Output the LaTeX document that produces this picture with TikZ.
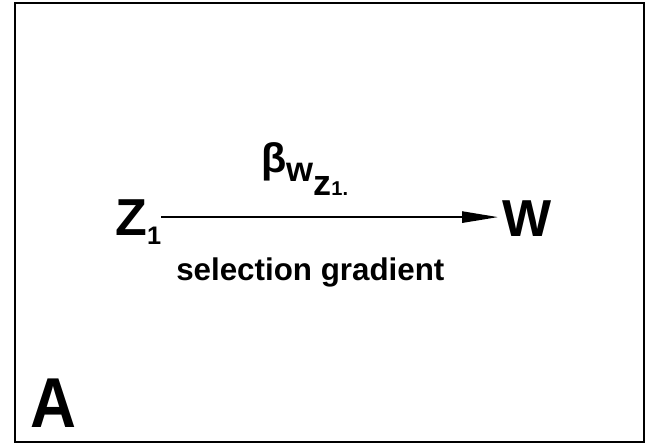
\documentclass[tikz,border=0pt]{standalone}
\usepackage{fontspec}
\setmainfont{Liberation Sans}
\usetikzlibrary{arrows.meta, positioning}

\begin{document}
\begin{tikzpicture}[x=0.75pt, y=-0.75pt,
    var/.style={inner sep=0pt, anchor=base west, font=\bfseries},
    gradient/.style={line width=1.3pt, -{Triangle[length=27pt, width=8.5pt]}, shorten >=3pt}]
    % Page
    \useasboundingbox (0,0) rectangle (646,445);

    % Frame
    \draw[line width=1.5pt] (15,3) rectangle (644,442);

    % Variables
    \node[var] (Z) at (115,236) {\fontsize{39}{40}\selectfont Z\raisebox{-6.75pt}{\fontsize{19}{20}\selectfont 1}};
    \node[var] (W) at (502,237) {\fontsize{39}{40}\selectfont W};

    % Selection gradient arrow
    \draw[gradient] ([yshift=1.5pt]Z.east |- W.west) -- ([yshift=1.5pt]W.west);

    % Labels
    \node[var] (beta) at (261,173) {\fontsize{31}{32}\selectfont β\raisebox{-6.75pt}{\fontsize{26}{26}\selectfont w\raisebox{-10pt}{\fontsize{27}{27}\selectfont z\raisebox{-0.5pt}{\fontsize{15}{16}\selectfont 1.}}}};
    \node[var] (sel) at (176,281) {\fontsize{23.5}{25}\selectfont selection gradient};

    % Panel letter
    \node[var] (panel) at (30,427) {\fontsize{53}{54}\selectfont\scalebox{0.9}[1]{A}};
\end{tikzpicture}
\end{document}
